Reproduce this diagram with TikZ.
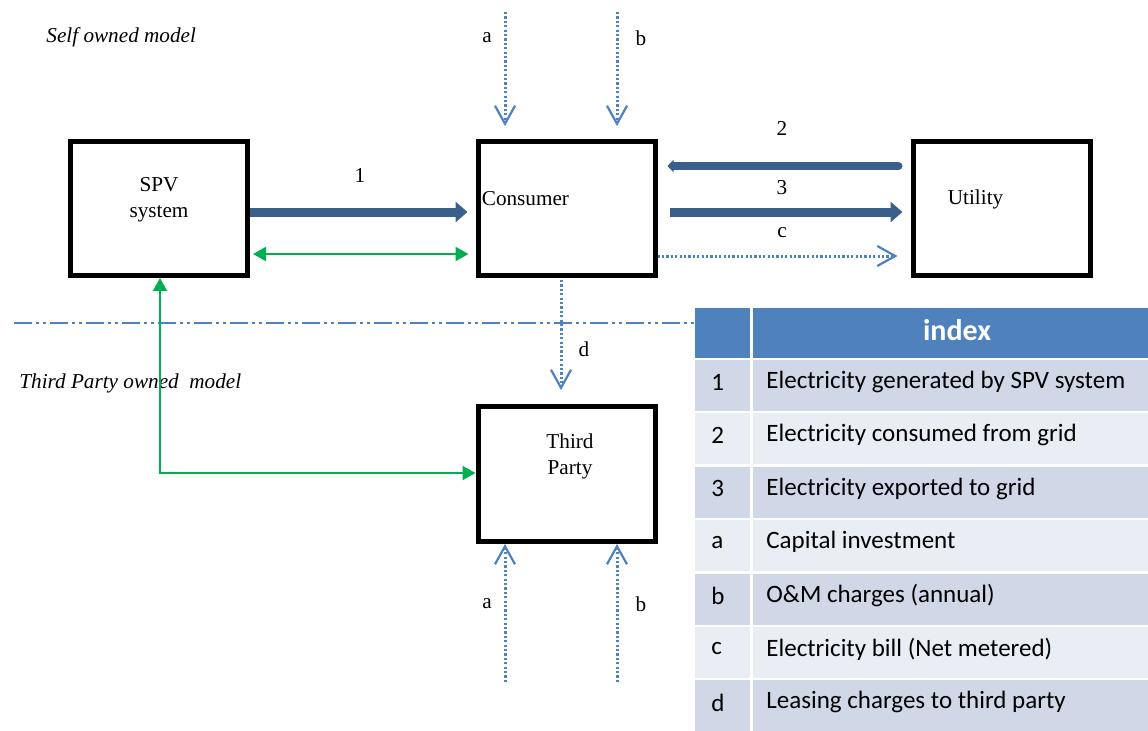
\documentclass[tikz,border=0pt]{standalone}
\usepackage{fontspec}
\setmainfont{Liberation Serif}
\newfontfamily\tabfont{Carlito}
\usetikzlibrary{arrows.meta}

\definecolor{flowblue}{HTML}{3A5F8B}
\definecolor{dotblue}{HTML}{4F81BD}
\definecolor{linkgreen}{HTML}{00B050}
\definecolor{headblue}{HTML}{4F81BD}
\definecolor{rowdark}{HTML}{D0D8E8}
\definecolor{rowlight}{HTML}{E9EDF4}

\tikzset{
  box/.style={draw=black,line width=2.5pt,minimum width=88.5pt,minimum height=67pt,inner sep=0pt},
  lbl/.style={font=\fontsize{10.6}{12.8}\selectfont,inner sep=0pt},
  flow/.style={flowblue,line width=4.5pt,-{Triangle[length=6pt,width=10pt]}},
  money/.style={dotblue,line width=1.5pt,dash pattern=on 1.1pt off 1.1pt,
    -{Straight Barb[length=9pt,width=10pt,line width=1.1pt]}},
  link/.style={linkgreen,line width=1.1pt,{Triangle[length=6.5pt,width=7pt]}-{Triangle[length=6.5pt,width=7pt]}},
  tabtxt/.style={font=\tabfont\fontsize{12.5}{14}\selectfont,anchor=west,inner sep=0pt},
}

\begin{document}
\begin{tikzpicture}[x=0.5pt,y=-0.5pt]
  \useasboundingbox (0,0) rectangle (1148,730);

  % titles and separator
  \node[lbl,anchor=west,font=\fontsize{10.6}{12.8}\selectfont\itshape] (self) at (46,37) {Self owned model};
  \node[lbl,anchor=west,font=\fontsize{10.6}{12.8}\selectfont\itshape] (third-t) at (19,383) {Third Party owned\ \ model};
  \draw[dotblue,line width=1pt,dash pattern=on 9pt off 2pt on 1.5pt off 2pt on 1.5pt off 2pt] (14,323) -- (695,323);

  % boxes
  \node[box,label={[lbl,align=center,yshift=4.25pt]center:SPV\\system}] (spv) at (159,208.5) {};
  \node[box,label={[lbl,anchor=west,xshift=3pt,yshift=4.75pt]west:Consumer}] (consumer) at (566.5,208.5) {};
  \node[box,label={[lbl,anchor=west,xshift=18.5pt,yshift=4.75pt]west:Utility}] (utility) at (1001.5,208.5) {};
  \node[box,minimum height=67.5pt,label={[lbl,align=center,xshift=1.75pt,yshift=8.75pt]center:Third\\Party}] (third) at (566.5,474) {};

  % energy flows
  \draw[flow,shorten >=4pt] (spv.east |- 0,212) -- (consumer.west |- 0,212);
  \draw[flow,line width=4pt,line cap=round,-{Triangle[length=3pt,width=6pt]},shorten <=6pt,shorten >=5pt] (utility.west |- 0,166) -- (consumer.east |- 0,166);
  \draw[flow,shorten <=6pt,shorten >=4pt] (consumer.east |- 0,212) -- (utility.west |- 0,212);
  \node[lbl] (n1) at (360,175) {1};
  \node[lbl] (n2) at (782,128) {2};
  \node[lbl] (n3) at (782,188) {3};

  % ownership links
  \draw[link,shorten <=1.5pt,shorten >=3.5pt] (spv.east |- 0,254) -- (consumer.west |- 0,254);
  \coordinate (corner) at (160,473);
  \draw[link] (spv.south -| corner) -- (corner) -- (third.west |- corner);

  % money flows
  \coordinate (a-top) at (505,12);
  \coordinate (b-top) at (617,12);
  \coordinate (a-bot) at (505,682);
  \coordinate (b-bot) at (617,682);
  \draw[money,shorten >=6.5pt] (a-top) -- (a-top |- consumer.north);
  \draw[money,shorten >=6.5pt] (b-top) -- (b-top |- consumer.north);
  \draw[money] (a-bot) -- (a-bot |- third.south);
  \draw[money] (b-bot) -- (b-bot |- third.south);
  \draw[money,shorten >=6.5pt] (consumer.east |- 0,256) -- (utility.west |- 0,256);
  \draw[money,shorten <=1pt,shorten >=7pt] (consumer.south -| 561,0) -- (third.north -| 561,0);
  \node[lbl] (la-top) at (487,38) {a};
  \node[lbl] (lb-top) at (641,38) {b};
  \node[lbl] (lc) at (782,233) {c};
  \node[lbl] (ld) at (584,349) {d};
  \node[lbl] (la-bot) at (487,604) {a};
  \node[lbl] (lb-bot) at (641,604) {b};

  % index table
  \fill[headblue] (695,308) rectangle (750,358);
  \fill[headblue] (753,308) rectangle (1148,358);
  \node[font=\tabfont\bfseries\fontsize{15}{17}\selectfont,text=white,inner sep=0pt] (index) at (957,330) {index};
  \foreach \k/\txt/\col [count=\i] in {
      1/Electricity generated by SPV system/rowdark,
      2/Electricity consumed from grid/rowlight,
      3/Electricity exported to grid/rowdark,
      a/Capital investment/rowlight,
      b/O\&M charges (annual)/rowdark,
      c/Electricity bill (Net metered)/rowlight,
      d/Leasing charges to third party/rowdark} {
    \pgfmathsetmacro\rowtop{360+53.4*(\i-1)}
    \fill[\col] (695,\rowtop) rectangle (750,\rowtop+51);
    \fill[\col] (753,\rowtop) rectangle (1148,\rowtop+51);
    \node[tabtxt] (key\i) at (711,\rowtop+22) {\k};
    \node[tabtxt] (desc\i) at (766,\rowtop+22) {\txt};
  }
\end{tikzpicture}
\end{document}
